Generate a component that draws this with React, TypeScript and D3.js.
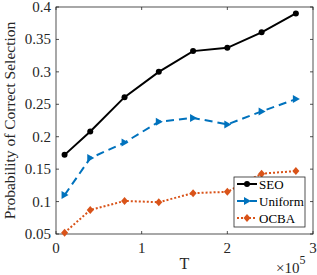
import React from 'react';
import * as d3 from 'd3';

const budgets = [1e4, 4e4, 8e4, 12e4, 16e4, 20e4, 24e4, 28e4];
const seo = [0.172, 0.208, 0.261, 0.3, 0.332, 0.337, 0.361, 0.39];
const uniform = [0.11, 0.167, 0.191, 0.223, 0.229, 0.219, 0.239, 0.258];
const ocba = [0.052, 0.087, 0.101, 0.099, 0.113, 0.115, 0.143, 0.147];
const xTicks = [0, 1e5, 2e5, 3e5];
const yTicks = [0.05, 0.1, 0.15, 0.2, 0.25, 0.3, 0.35, 0.4];

const W = 317;
const H = 275;
const M = { left: 56, right: 4, top: 7, bottom: 41 };
const FONT = "'Liberation Serif', Tinos, 'Times New Roman', 'DejaVu Serif', serif";

const series = [
  { name: 'SEO', values: seo, color: '#000000', dash: '', marker: 'circle' },
  { name: 'Uniform', values: uniform, color: '#0072BD', dash: '8,5', marker: 'tri' },
  { name: 'OCBA', values: ocba, color: '#D95319', dash: '2,2', marker: 'diamond' },
];

const Marker = ({ type, x, y, color }: { type: string; x: number; y: number; color: string }) => {
  if (type === 'circle') return <circle cx={x} cy={y} r={3} fill={color} />;
  if (type === 'tri')
    return <path d={`M${x + 4},${y} L${x - 3},${y - 4} L${x - 3},${y + 4} Z`} fill={color} />;
  return <path d={`M${x},${y - 4} L${x + 3.5},${y} L${x},${y + 4} L${x - 3.5},${y} Z`} fill={color} />;
};

export default function App() {
  const x = d3.scaleLinear().domain([0, 3e5]).range([M.left, W - M.right]);
  const y = d3.scaleLinear().domain([0.05, 0.4]).range([H - M.bottom, M.top]);
  const line = d3
    .line<number>()
    .x((_, i) => x(budgets[i]))
    .y((d) => y(d));

  const x0 = M.left;
  const x1 = W - M.right;
  const y0 = H - M.bottom;
  const y1 = M.top;
  const txt = { fontFamily: FONT };

  // legend
  const lg = { x: 234, y: 177, w: 71, h: 50 };

  return (
    <svg width={W} height={H} style={{ position: 'absolute', left: 0, top: 0 }}>
      <rect x={0} y={0} width={W} height={H} fill="#fff" />
      <rect x={x0} y={y1} width={x1 - x0} height={y0 - y1} fill="none" stroke="#262626" strokeWidth={0.8} />
      {xTicks.map((t) => (
        <g key={t}>
          <line x1={x(t)} x2={x(t)} y1={y0} y2={y0 - 3} stroke="#262626" strokeWidth={0.8} />
          <line x1={x(t)} x2={x(t)} y1={y1} y2={y1 + 3} stroke="#262626" strokeWidth={0.8} />
          <text x={x(t)} y={y0 + 19} textAnchor="middle" fontSize={15} fill="#262626" style={txt}>
            {t / 1e5}
          </text>
        </g>
      ))}
      {yTicks.map((t) => (
        <g key={t}>
          <line x1={x0} x2={x0 + 3} y1={y(t)} y2={y(t)} stroke="#262626" strokeWidth={0.8} />
          <line x1={x1} x2={x1 - 3} y1={y(t)} y2={y(t)} stroke="#262626" strokeWidth={0.8} />
          <text x={x0 - 5} y={y(t) + 5} textAnchor="end" fontSize={15} fill="#262626" style={txt}>
            {t}
          </text>
        </g>
      ))}
      <text x={(x0 + x1) / 2} y={H - 6} textAnchor="middle" fontSize={16} fill="#262626" style={txt}>
        T
      </text>
      <text x={276} y={273} fontSize={15} fill="#262626" style={txt}>
        ×10
        <tspan dy={-9} fontSize={12}>5</tspan>
      </text>
      <text
        transform={`translate(15,${(y0 + y1) / 2}) rotate(-90)`}
        textAnchor="middle"
        fontSize={15.5}
        fill="#262626"
        style={txt}
      >
        Probability of Correct Selection
      </text>
      {series.map((s) => (
        <g key={s.name}>
          <path d={line(s.values) || ''} fill="none" stroke={s.color} strokeWidth={2} strokeDasharray={s.dash} />
          {s.values.map((v, i) => (
            <Marker key={i} type={s.marker} x={x(budgets[i])} y={y(v)} color={s.color} />
          ))}
        </g>
      ))}
      <rect x={lg.x} y={lg.y} width={lg.w} height={lg.h} fill="#fff" stroke="#262626" strokeWidth={0.8} />
      {series.map((s, i) => {
        const cy = lg.y + 7 + i * 17;
        return (
          <g key={s.name}>
            <line x1={lg.x + 3} x2={lg.x + 23} y1={cy} y2={cy} stroke={s.color} strokeWidth={2} strokeDasharray={s.dash} />
            <Marker type={s.marker} x={lg.x + 13} y={cy} color={s.color} />
            <text x={lg.x + 25} y={cy + 4.5} fontSize={13} fill="#000" style={txt}>
              {s.name}
            </text>
          </g>
        );
      })}
    </svg>
  );
}
